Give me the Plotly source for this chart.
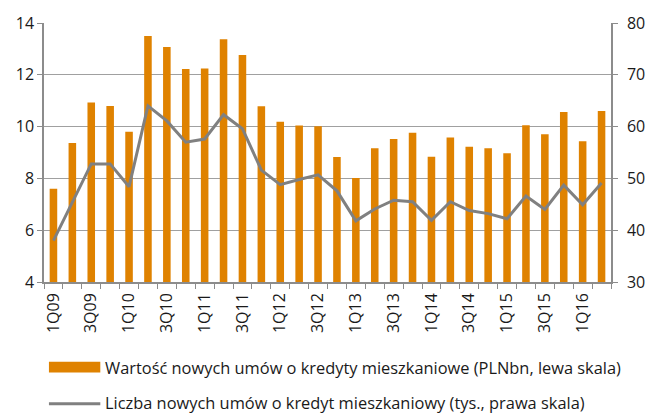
import plotly.graph_objects as go

quarters = ["1Q09", "2Q09", "3Q09", "4Q09", "1Q10", "2Q10", "3Q10", "4Q10",
            "1Q11", "2Q11", "3Q11", "4Q11", "1Q12", "2Q12", "3Q12", "4Q12",
            "1Q13", "2Q13", "3Q13", "4Q13", "1Q14", "2Q14", "3Q14", "4Q14",
            "1Q15", "2Q15", "3Q15", "4Q15", "1Q16", "2Q16"]
tick_labels = [q if i % 2 == 0 else "" for i, q in enumerate(quarters)]

value_pln_bn = [7.60, 9.37, 10.93, 10.80, 9.80, 13.50, 13.07, 12.22, 12.24, 13.37,
                12.76, 10.79, 10.19, 10.04, 10.01, 8.83, 8.02, 9.16, 9.52, 9.76,
                8.84, 9.58, 9.22, 9.16, 8.97, 10.05, 9.70, 10.56, 9.43, 10.60]
count_thousands = [38.0, 45.4, 52.8, 52.8, 48.4, 64.0, 61.1, 57.0, 57.6, 62.3,
                   59.6, 51.6, 48.8, 49.8, 50.7, 47.6, 41.8, 44.1, 45.8, 45.5,
                   41.9, 45.5, 43.8, 43.2, 42.2, 46.6, 44.0, 48.7, 44.9, 49.1]

name_bar = "Wartość nowych umów o kredyty mieszkaniowe (PLNbn, lewa skala)"
name_line = "Liczba nowych umów o kredyt mieszkaniowy (tys., prawa skala)"

BAR_C = "#DF8200"
LINE_C = "#808080"
GRID_C = "#A0A0A0"
AX_C = "#8C8C8C"
TXT_C = "#1A1A1A"
FONT = "Open Sans"

W, H = 657, 418
L, R, T, B = 44, 39, 16, 136
pw, ph = W - L - R, H - T - B

def px_x(p):
    return (p - L) / pw

def px_y(p):
    return (H - B - p) / ph

fig = go.Figure()
fig.add_trace(go.Bar(x=quarters, y=value_pln_bn, marker=dict(color=BAR_C, line_width=0),
                     name=name_bar, showlegend=False))
fig.add_trace(go.Scatter(x=quarters, y=count_thousands, yaxis="y2", mode="lines",
                         line=dict(color=LINE_C, width=3), name=name_line, showlegend=False))

fig.update_layout(
    width=W, height=H,
    margin=dict(l=L, r=R, t=T, b=B, pad=0),
    plot_bgcolor="white", paper_bgcolor="white",
    bargap=0.6,
    font=dict(family=FONT, size=16, color=TXT_C),
    xaxis=dict(type="category", tickmode="array", tickvals=quarters, ticktext=tick_labels,
               tickangle=-90, tickson="boundaries", ticks="outside", ticklen=5,
               tickcolor=AX_C, showline=True, linecolor=AX_C, linewidth=1.5,
               showgrid=False, ticklabelstandoff=3, tickfont=dict(size=16, color=TXT_C)),
    yaxis=dict(range=[4, 14], dtick=2, ticks="outside", ticklen=5, tickcolor=AX_C,
               showline=True, linecolor=AX_C, linewidth=1.5, showgrid=True,
               gridcolor=GRID_C, gridwidth=1, zeroline=False,
               tickfont=dict(size=16, color=TXT_C)),
    yaxis2=dict(range=[30, 80], dtick=10, overlaying="y", side="right", ticks="outside",
                ticklen=5, tickcolor=AX_C, showline=True, linecolor=AX_C, linewidth=1.5,
                showgrid=False, zeroline=False, ticklabelstandoff=6,
                tickfont=dict(size=16, color=TXT_C)),
)

# legend drawn below the plot
fig.add_shape(type="rect", xref="paper", yref="paper",
              x0=px_x(49), x1=px_x(101), y0=px_y(375), y1=px_y(364),
              fillcolor=BAR_C, line_width=0)
fig.add_shape(type="line", xref="paper", yref="paper",
              x0=px_x(49), x1=px_x(101), y0=px_y(407), y1=px_y(407),
              line=dict(color=LINE_C, width=3))
fig.add_annotation(text=name_bar, xref="paper", yref="paper", x=px_x(104), y=px_y(370),
                   xanchor="left", yanchor="middle", showarrow=False,
                   font=dict(size=16.4, color=TXT_C))
fig.add_annotation(text=name_line, xref="paper", yref="paper", x=px_x(104), y=px_y(406),
                   xanchor="left", yanchor="middle", showarrow=False,
                   font=dict(size=16.4, color=TXT_C))

fig.write_html("out.html", config={"displayModeBar": False},
               post_script="document.body.style.margin='0';")
